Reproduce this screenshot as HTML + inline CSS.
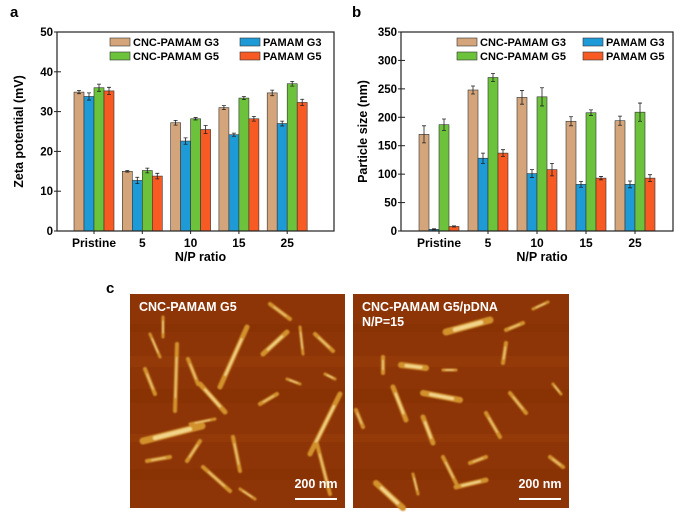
<!DOCTYPE html>
<html><head><meta charset="utf-8"><style>
body{margin:0;background:#fff;}
svg{display:block;font-family:"Liberation Sans",Arial,sans-serif;font-weight:bold;}
</style></head><body>
<svg id="fig" width="680" height="517" viewBox="0 0 680 517" xmlns="http://www.w3.org/2000/svg">
<defs><filter id="soft" x="-10%" y="-10%" width="120%" height="120%"><feGaussianBlur stdDeviation="0.9"/></filter></defs>
<text x="10" y="17" font-size="15">a</text>
<text x="352" y="17" font-size="15">b</text>
<text x="106" y="293" font-size="15">c</text>
<g id="chartA"></g>
<g id="chartB"></g>
<g id="afm"></g>
</svg>
<script>
const categories = ["Pristine","5","10","15","25"];
const seriesNames = ["CNC-PAMAM G3","PAMAM G3","CNC-PAMAM G5","PAMAM G5"];
const colors = ["#d4a57a","#1e9bd7","#6cc23a","#f75a22"];
const zetaG3cnc = [34.9,15.0,27.2,31.0,34.7];
const zetaG3 = [33.8,12.7,22.6,24.2,27.0];
const zetaG5cnc = [36.0,15.2,28.2,33.4,37.0];
const zetaG5 = [35.2,13.8,25.5,28.2,32.3];
const zetaErr = [[0.4,0.2,0.6,0.5,0.7],[0.9,0.8,0.8,0.4,0.6],[0.9,0.6,0.3,0.4,0.6],[0.9,0.7,1.0,0.6,0.8]];
const zetaTicks = [0,10,20,30,40,50];
const sizeG3cnc = [170,248,235,193,194];
const sizeG3 = [3,128,101,82,82];
const sizeG5cnc = [187,270,236,208,209];
const sizeG5 = [8,137,108,93,93];
const sizeErr = [[15,7,12,8,8],[1,9,7,5,6],[10,7,16,5,16],[1,6,11,3,6]];
const sizeTicks = [0,50,100,150,200,250,300,350];

const NS="http://www.w3.org/2000/svg";
function mk(tag,attrs,parent){const e=document.createElementNS(NS,tag);for(const k in attrs)e.setAttribute(k,attrs[k]);parent.appendChild(e);return e;}

function chart(g,cfg){
  const {x0,x1,y0,y1,max,ticks,c0,step,series,errs,ytitle,legX1,legX2}=cfg;
  const ys=v=>y0-(v/max)*(y0-y1);
  const xc=i=>c0+i*step;
  const bw=10;
  series.forEach((arr,s)=>{
    arr.forEach((v,i)=>{
      const x=xc(i)-2*bw+s*bw;
      const r=mk('rect',{x:x,y:ys(v),width:bw,height:y0-ys(v),fill:colors[s],stroke:"#333","stroke-width":0.6},g);
      
      
      const e=errs[s][i],cx=x+bw/2;
      const p=mk('path',{d:`M${cx},${ys(v+e)}V${ys(v-e)}M${cx-2},${ys(v+e)}H${cx+2}M${cx-2},${ys(v-e)}H${cx+2}`,stroke:"#222","stroke-width":0.8,fill:"none"},g);
      
      
    });
  });
  const f=mk('rect',{x:x0,y:y1,width:x1-x0,height:y0-y1,fill:"none",stroke:"#222","stroke-width":1.2},g);
  
  
  ticks.forEach(t=>{
    const y=ys(t);
    mk('line',{x1:x0,x2:x0+4,y1:y,y2:y,stroke:"#222","stroke-width":1},g);
    mk('line',{x1:x0,x2:x0-3,y1:y,y2:y,stroke:"#222","stroke-width":1},g);
    const tx=mk('text',{x:x0-4,y:y+4,"font-size":11.5,"text-anchor":"end"},g);
    tx.textContent=t;
    
    
  });
  categories.forEach((c,i)=>{
    mk('line',{x1:xc(i),x2:xc(i),y1:y0,y2:y0+3,stroke:"#222"},g);
    const tx=mk('text',{x:xc(i),y:y0+16,"font-size":12,"text-anchor":"middle"},g);
    tx.textContent=c;
    
    
  });
  const xt=mk('text',{x:(x0+x1)/2+5,y:y0+30,"font-size":12.5,"text-anchor":"middle"},g);
  xt.textContent="N/P ratio";
  
  
  const yt=mk('text',{x:0,y:0,"font-size":12.5,"text-anchor":"middle",transform:`translate(${x0-34},${(y0+y1)/2}) rotate(-90)`},g);
  yt.textContent=ytitle;
  
  
  const order=[[0,legX1,44],[1,legX2,44],[2,legX1,58],[3,legX2,58]];
  order.forEach(([s,lx,ly])=>{
    const sw=mk('rect',{x:lx,y:ly-6,width:20,height:8,fill:colors[s],stroke:"#333","stroke-width":0.6},g);
    
    
    const lt=mk('text',{x:lx+23,y:ly+2,"font-size":11},g);
    lt.textContent=seriesNames[s];
    
    
  });
}
chart(document.getElementById('chartA'),{x0:57,x1:334,y0:231,y1:32,max:50,ticks:zetaTicks,c0:94,step:48.3,
  series:[zetaG3cnc,zetaG3,zetaG5cnc,zetaG5],errs:zetaErr,ytitle:"Zeta potential (mV)",legX1:110,legX2:240});
chart(document.getElementById('chartB'),{x0:401,x1:673,y0:231,y1:32,max:350,ticks:sizeTicks,c0:439,step:49,
  series:[sizeG3cnc,sizeG3,sizeG5cnc,sizeG5],errs:sizeErr,ytitle:"Particle size (nm)",legX1:457,legX2:583});

// AFM images
const afm=document.getElementById('afm');
const rodsLeft=[[90,93,117,33,5],[133,60,157,38,5],[13,147,72,132,7],[47,50,45,117,4],[15,75,25,100,4],[58,65,68,90,4],[70,90,95,118,5],[180,160,210,100,5],[103,143,110,177,4],[157,85,170,90,3],[130,110,147,100,4],[73,173,100,197,4],[17,167,40,163,4],[57,167,70,147,4],[185,40,203,57,4],[170,33,173,60,3],[187,150,200,200,4],[20,40,30,63,3],[33,23,33,43,3],[140,10,160,25,4],[195,80,205,85,3],[60,130,85,125,3],[110,195,125,205,3]];
const rodsRight=[[93,38,137,26,7],[48,71,73,74,6],[70,99,107,106,6],[40,93,53,126,5],[70,123,80,149,5],[133,119,147,143,4],[157,99,173,119,4],[23,189,50,214,6],[90,163,103,189,4],[117,169,133,163,4],[153,36,170,29,4],[153,49,150,69,4],[30,63,30,79,4],[3,116,10,133,4],[197,163,210,173,4],[103,193,133,186,5],[90,76,103,76,3],[200,90,208,100,3],[180,15,195,8,3],[60,180,65,200,3]];
function img(x,y,w,h,rods,label,name){
  const g=mk('g',{transform:`translate(${x},${y})`},afm);
  
  
  mk('rect',{x:0,y:0,width:w,height:h,fill:"#8e3507"},g);
  [30,62,95,140,175].forEach((yy,k)=>mk('rect',{x:0,y:yy,width:w,height:8+k%3*3,fill:k%2?"#983d0c":"#853004",opacity:0.6},g));
  const rg=mk('g',{filter:"url(#soft)"},g);
  rods.forEach(r=>{
    mk('line',{x1:r[0],y1:r[1],x2:r[2],y2:r[3],stroke:"#d2912c","stroke-width":r[4],"stroke-linecap":"round"},rg);
    mk('line',{x1:r[0]+(r[2]-r[0])*0.2,y1:r[1]+(r[3]-r[1])*0.2,x2:r[0]+(r[2]-r[0])*0.8,y2:r[1]+(r[3]-r[1])*0.8,stroke:"#f3d58a","stroke-width":Math.max(1,r[4]-3),"stroke-linecap":"round"},rg);
  });
  label.forEach((t,i)=>{
    const tx=mk('text',{x:9,y:17+i*15,"font-size":12.5,fill:"#fff"},g);
    tx.textContent=t;
    
    
  });
  const sb=mk('text',{x:w-29,y:h-20,"font-size":12.5,fill:"#fff","text-anchor":"middle"},g);
  sb.textContent="200 nm";
  
  
  mk('line',{x1:w-50,x2:w-8,y1:h-9,y2:h-9,stroke:"#fff","stroke-width":2},g);
}
img(130,294,215,214,rodsLeft,["CNC-PAMAM G5"],"afm-cnc-pamam-g5");
img(353,294,216,214,rodsRight,["CNC-PAMAM G5/pDNA","N/P=15"],"afm-cnc-pamam-g5-pdna");
</script>
</body></html>
